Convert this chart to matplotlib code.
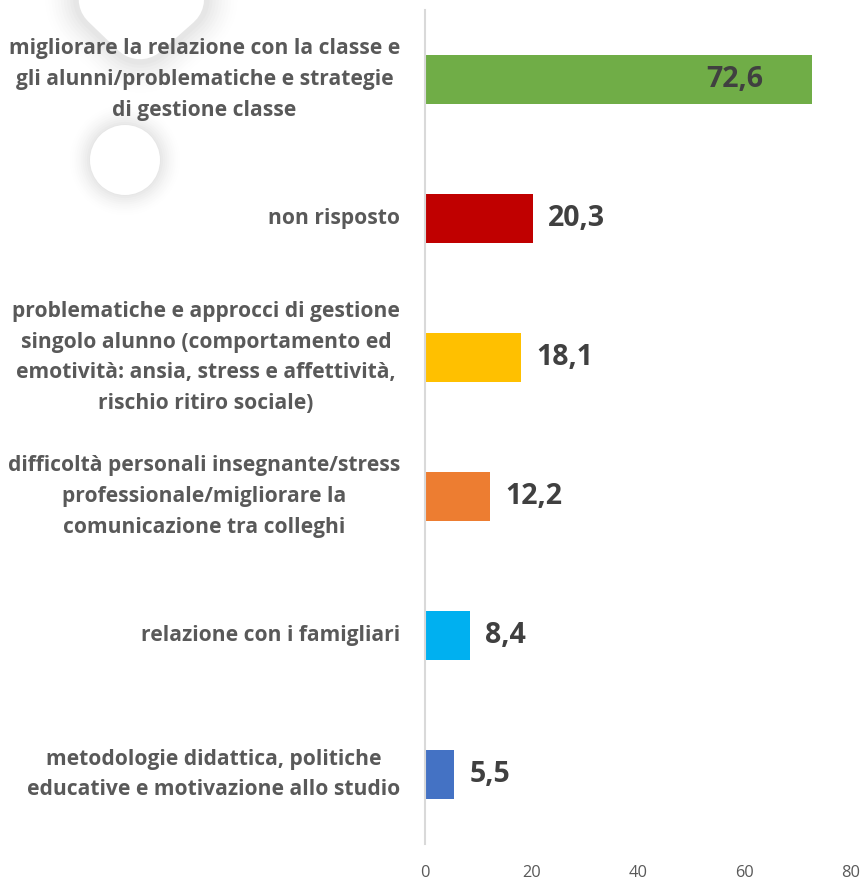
import matplotlib
matplotlib.use("Agg")
import matplotlib.pyplot as plt
from matplotlib.patches import Circle
import numpy as np

categories = [
    "migliorare la relazione con la classe e\ngli alunni/problematiche e strategie\ndi gestione classe",
    "non risposto",
    "problematiche e approcci di gestione\nsingolo alunno (comportamento ed\nemotività: ansia, stress e affettività,\nrischio ritiro sociale)",
    "difficoltà personali insegnante/stress\nprofessionale/migliorare la\ncomunicazione tra colleghi",
    "relazione con i famigliari",
    "metodologie didattica, politiche\neducative e motivazione allo studio",
]
values = [72.6, 20.3, 18.1, 12.2, 8.4, 5.5]
value_labels = ["72,6", "20,3", "18,1", "12,2", "8,4", "5,5"]
colors = ["#70AD47", "#C00000", "#FFC000", "#ED7D31", "#00B0F0", "#4472C4"]
xticks = [0, 20, 40, 60, 80]

plt.rcParams['font.family'] = ['Open Sans', 'DejaVu Sans']

fig = plt.figure(figsize=(8.66, 8.81), dpi=100)

# faint watermark shapes (background)
bg = fig.add_axes([0, 0, 1, 1], zorder=0)
bg.set_xlim(0, 866); bg.set_ylim(881, 0); bg.axis('off')
for r, a in zip(np.linspace(55, 36, 10), np.linspace(0.006, 0.03, 10)):
    bg.add_patch(Circle((125, 160), r, color='#808080', alpha=a, lw=0))
bg.add_patch(Circle((125, 160), 35, color='white', lw=0))
for w, a in zip(np.linspace(24, 4, 10), np.linspace(0.006, 0.03, 10)):
    bg.plot([85, 140, 200], [-25, 28, -25], color='#808080', alpha=a, lw=45 + w * 2,
            solid_capstyle='round', solid_joinstyle='round')
bg.plot([85, 140, 200], [-25, 28, -25], color='white', lw=45,
        solid_capstyle='round', solid_joinstyle='round')

ax = fig.add_axes([425/866, 1 - 844/881, (851 - 425)/866, (844 - 10)/881], zorder=1)
ax.patch.set_alpha(0)
y = np.arange(len(categories))
ax.barh(y, values, height=0.35, color=colors, zorder=2)
ax.set_xlim(0, 80)
ax.set_ylim(len(categories) - 0.5, -0.5)
ax.set_xticks(xticks)
ax.set_xticklabels([str(t) for t in xticks], fontsize=11.8, color='#595959')
ax.set_yticks(y)
ax.set_yticklabels(categories, fontsize=15.1, fontweight='bold', color='#595959',
                   linespacing=1.6)
for lbl in ax.get_yticklabels():
    lbl.set_multialignment('center')
    lbl.set_verticalalignment('center')
ax.tick_params(axis='y', length=0, pad=18)
ax.tick_params(axis='x', length=0, pad=15)
for s in ['top', 'right', 'bottom']:
    ax.spines[s].set_visible(False)
ax.spines['left'].set_color('#D9D9D9')
ax.spines['left'].set_linewidth(1.5)

for i, (v, lab) in enumerate(zip(values, value_labels)):
    if i == 0:
        ax.annotate(lab, (v, i), xytext=(-48, 0), textcoords='offset pixels',
                    ha='right', va='center', fontsize=20.5, fontweight='bold', color='#404040')
    else:
        ax.annotate(lab, (v, i), xytext=(15, 0), textcoords='offset pixels',
                    ha='left', va='center', fontsize=20.5, fontweight='bold', color='#404040')

fig.savefig("out.png", dpi=100)
